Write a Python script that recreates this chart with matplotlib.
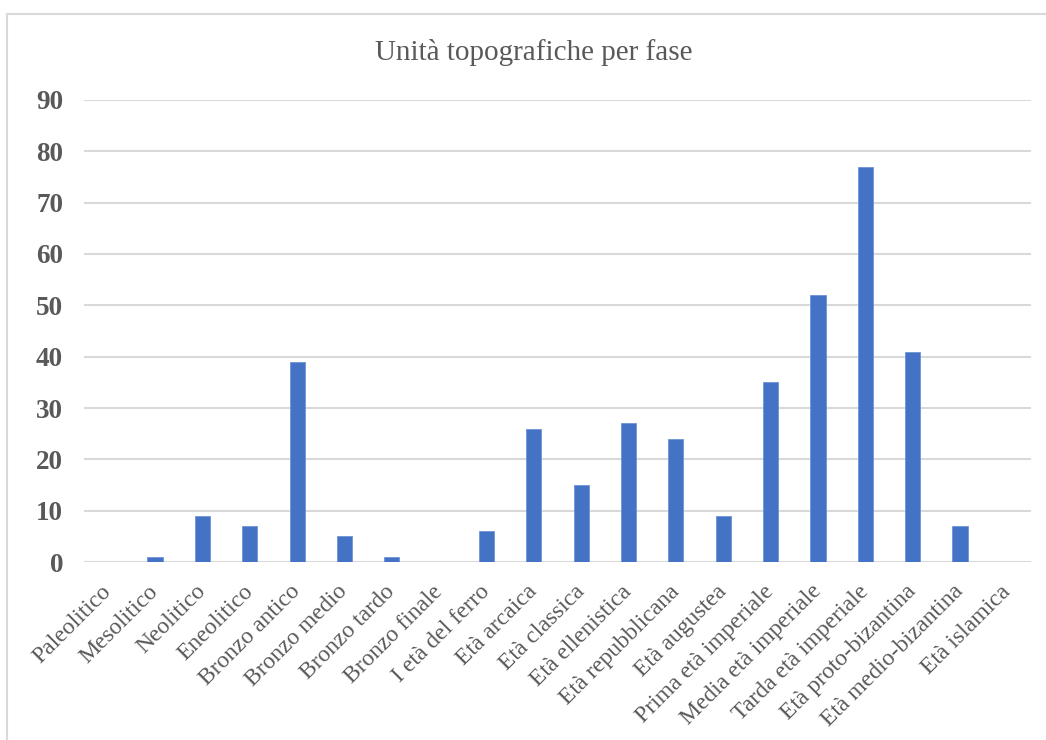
import matplotlib
matplotlib.use('Agg')
import matplotlib.pyplot as plt
from matplotlib.patches import Rectangle

# dati: unità topografiche per fase
fasi = ['Paleolitico', 'Mesolitico', 'Neolitico', 'Eneolitico', 'Bronzo antico',
        'Bronzo medio', 'Bronzo tardo', 'Bronzo finale', 'I età del ferro',
        'Età arcaica', 'Età classica', 'Età ellenistica', 'Età repubblicana',
        'Età augustea', 'Prima età imperiale', 'Media età imperiale',
        'Tarda età imperiale', 'Età proto-bizantina', 'Età medio-bizantina',
        'Età islamica']
unita = [0, 1, 9, 7, 39, 5, 1, 0, 6, 26, 15, 27, 24, 9, 35, 52, 77, 41, 7, 0]
y_ticks = [0, 10, 20, 30, 40, 50, 60, 70, 80, 90]

plt.rcParams['font.family'] = ['Liberation Serif', 'DejaVu Serif']
grigio = '#595959'

fig = plt.figure(figsize=(10.46, 7.40), dpi=100)
ax = fig.add_axes([0.0803, 0.2405, 0.9054, 0.6244])

# cornice del grafico (stile Excel)
fig.patches.append(Rectangle((7 / 1046, -0.05), 1.1, 0.05 + (740 - 14) / 740,
                             transform=fig.transFigure, fill=False,
                             edgecolor='#D9D9D9', linewidth=1.5))

x = range(len(fasi))
ax.bar(x, unita, width=0.32, color='#4472C4', edgecolor='#6f93d6', linewidth=0.6, zorder=3)

ax.set_xlim(-0.5, len(fasi) - 0.5)
ax.set_ylim(0, 90)
ax.set_yticks(y_ticks)
ax.set_yticklabels([str(v) for v in y_ticks], fontsize=19.5, fontweight='bold', color=grigio)
ax.set_xticks(list(x))
ax.set_xticklabels(fasi, rotation=45, ha='right', va='center', rotation_mode='anchor',
                   fontsize=17, color=grigio)
ax.tick_params(axis='both', length=0)
ax.tick_params(axis='x', pad=19)
ax.tick_params(axis='y', pad=15)

ax.grid(axis='y', color='#D9D9D9', linewidth=1.5, zorder=0)
for s in ax.spines.values():
    s.set_visible(False)

fig.text(534 / 1046, (740 - 53) / 740, 'Unità topografiche per fase',
         ha='center', va='center', fontsize=21, color=grigio)

fig.savefig('out.png', dpi=100)
